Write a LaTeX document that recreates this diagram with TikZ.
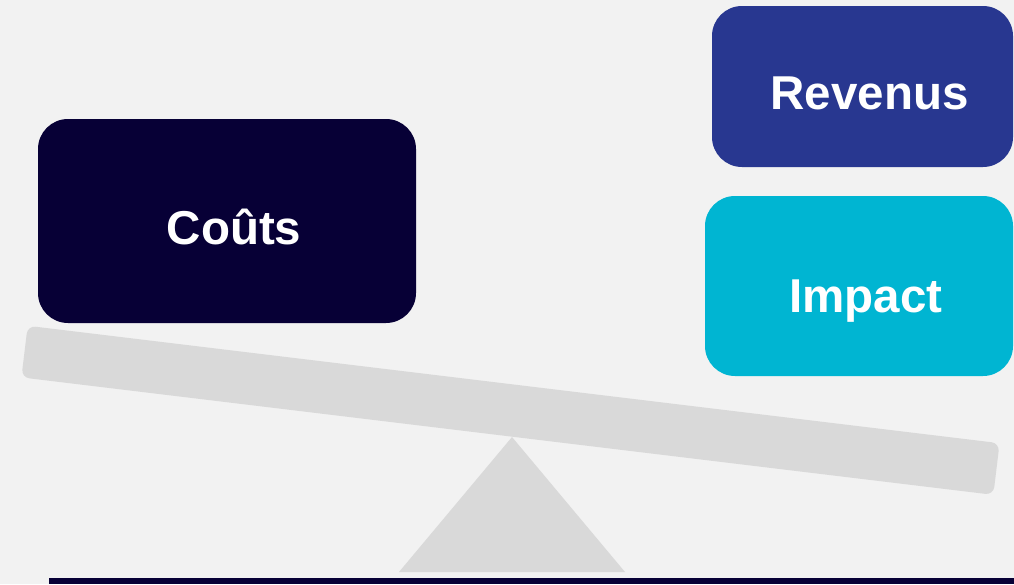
\documentclass[tikz,border=0pt]{standalone}
\usepackage{fontspec}
\setmainfont{Liberation Sans}
\usepackage{tikz}
\definecolor{bgray}{HTML}{F2F2F2}
\definecolor{scalegray}{HTML}{D9D9D9}
\definecolor{navy}{HTML}{070036}
\definecolor{royal}{HTML}{283790}
\definecolor{cyan}{HTML}{00B5D2}

\begin{document}
\begin{tikzpicture}[
  x=1pt, y=-1pt,
  box/.style={
    rounded corners=30pt, inner sep=0pt,
    text=white, font=\fontsize{47.5}{52}\selectfont\bfseries
  },
  beam/.style={
    fill=scalegray, rounded corners=8pt, inner sep=0pt,
    minimum width=979pt, minimum height=52pt
  }
]
  \fill[bgray] (0,0) rectangle (1014,584);
  \useasboundingbox (0,0) rectangle (1014,584);
  \node[beam, rotate=-6.89] (beam) at (510.5,410.3){};
  \fill[scalegray] (512,437) -- (625,572) -- (399,572) -- cycle;
  \fill[navy] (49,578) rectangle (1014,584);
  \node[box, fill=navy, minimum width=378pt, minimum height=204pt] (couts) at (227,221){};
  \node[box, fill=royal, minimum width=301pt, minimum height=161pt] (revenus) at (862.5,86.5){};
  \node[box, fill=cyan, minimum width=308pt, minimum height=180pt] (impact) at (859,286){};
  \node[box] at ([shift={(7,6)}]couts.center){Coûts};
  \node[box] at ([shift={(7,7)}]revenus.center){Revenus};
  \node[box] at ([shift={(7,15)}]impact.center){Impact};
\end{tikzpicture}
\end{document}
